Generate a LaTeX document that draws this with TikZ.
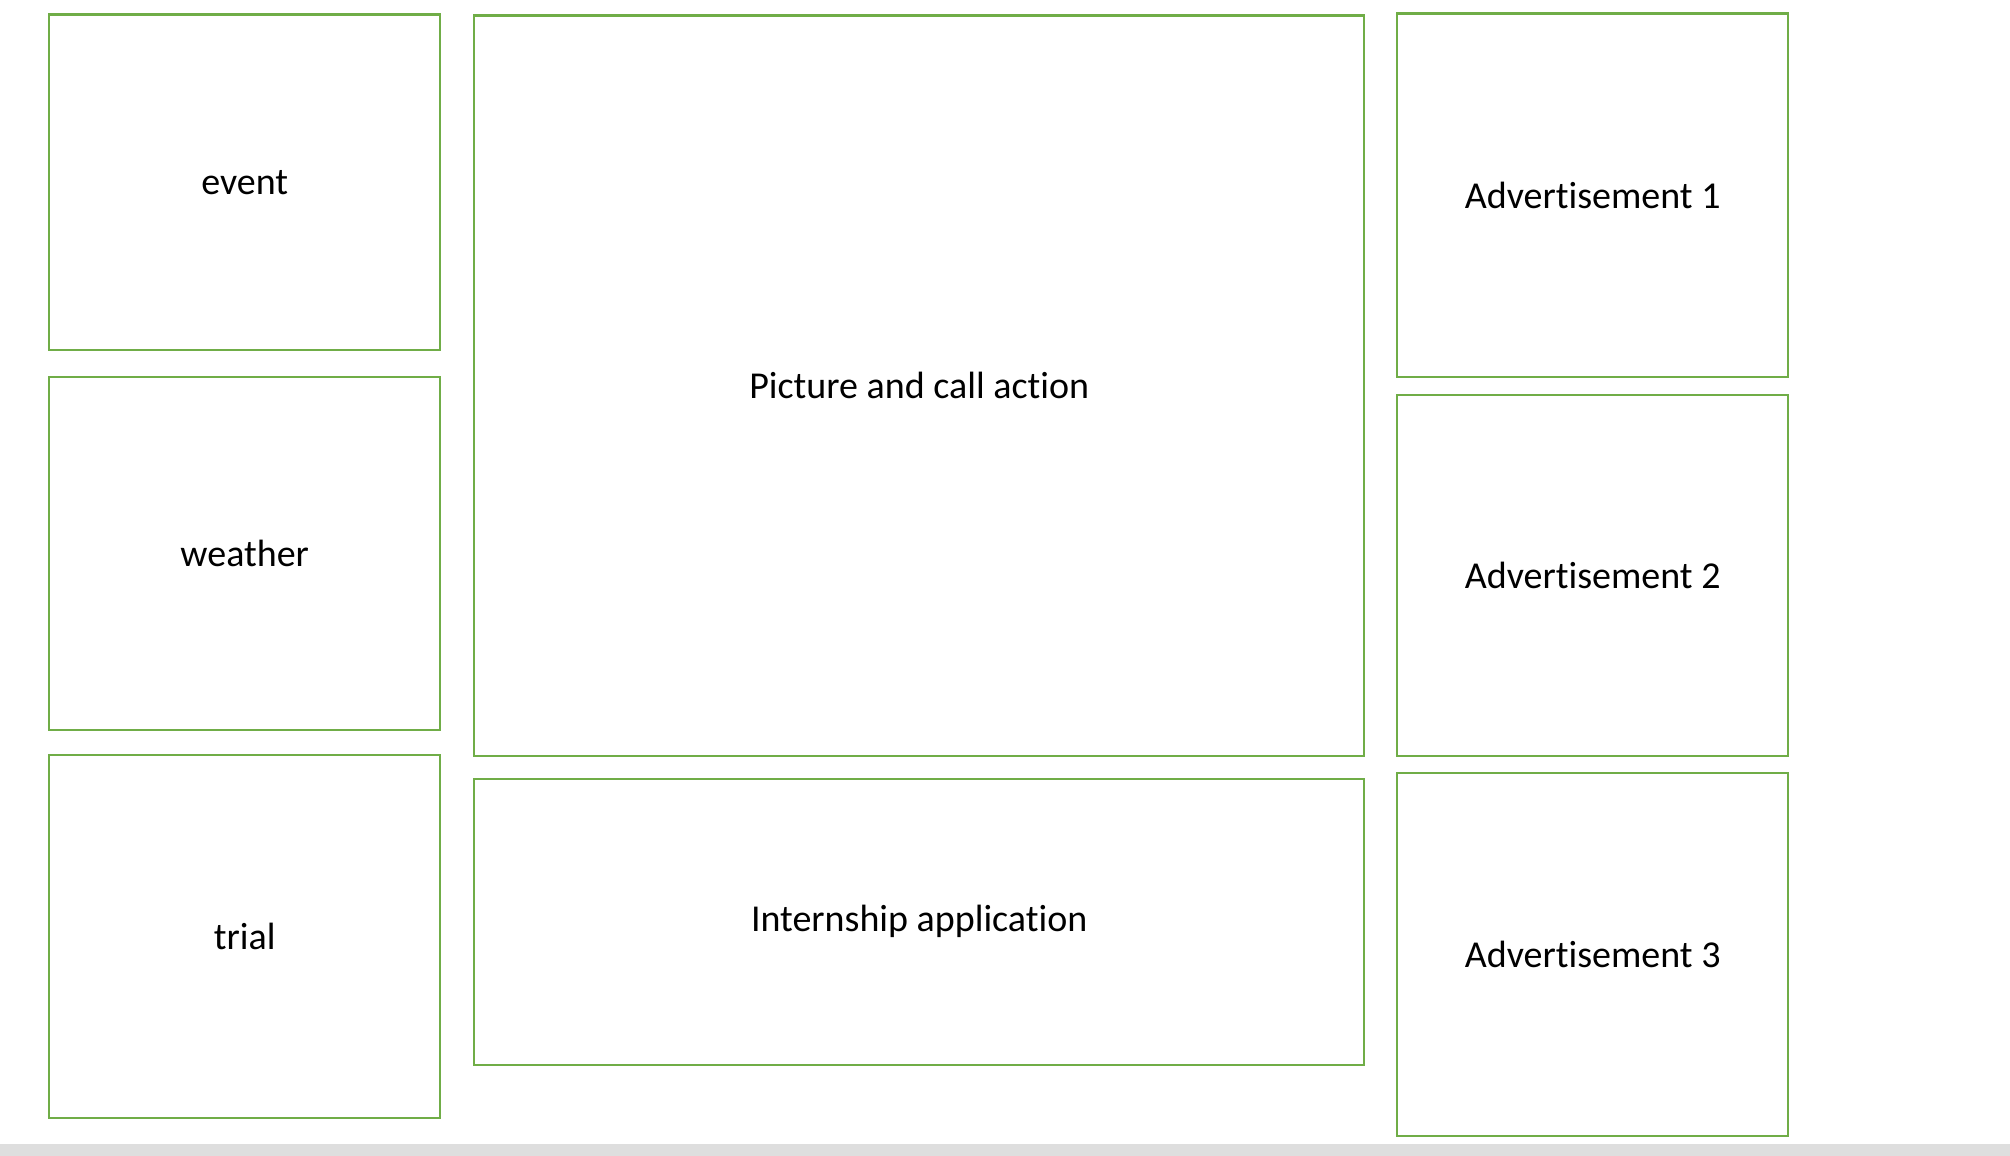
\documentclass[tikz,border=0pt]{standalone}
\usepackage{fontspec}
\setmainfont{Carlito}[Ligatures={NoCommon}, RawFeature={-liga;-clig;-calt}]
\definecolor{panelgreen}{HTML}{70AD47}
\definecolor{barcolor}{HTML}{DEDEDE}
\tikzset{
  panel/.style={draw=panelgreen, line width=2.4pt, fill=white, anchor=north west,
    inner sep=0pt, align=center, font=\fontsize{38}{46}\selectfont, text=black}
}
\begin{document}
\begin{tikzpicture}[x=1pt,y=-1pt]
\fill[white] (0,0) rectangle (2010,1156);
\useasboundingbox (0,0) rectangle (2010,1156);
\fill[barcolor] (0,1144) rectangle (2010,1156);
% left column
\node[panel, minimum width=391pt, minimum height=335pt] (event) at (48,13.5) {event};
\node[panel, minimum width=391pt, minimum height=353pt] (weather) at (48,375.5) {weather};
\node[panel, minimum width=391pt, minimum height=363pt] (trial) at (48,753.5) {trial};
% middle column
\node[panel, minimum width=890pt, minimum height=740pt] (picture) at (473,14.5) {Picture and call action};
\node[panel, minimum width=890pt, minimum height=286pt] (intern) at (473,777.5) {Internship application};
% right column
\node[panel, minimum width=391pt, minimum height=363pt] (ad1) at (1396,12.5) {Advertisement 1};
\node[panel, minimum width=391pt, minimum height=361pt] (ad2) at (1396,393.5) {Advertisement 2};
\node[panel, minimum width=391pt, minimum height=363pt] (ad3) at (1396,771.5) {Advertisement 3};
\end{tikzpicture}
\end{document}
